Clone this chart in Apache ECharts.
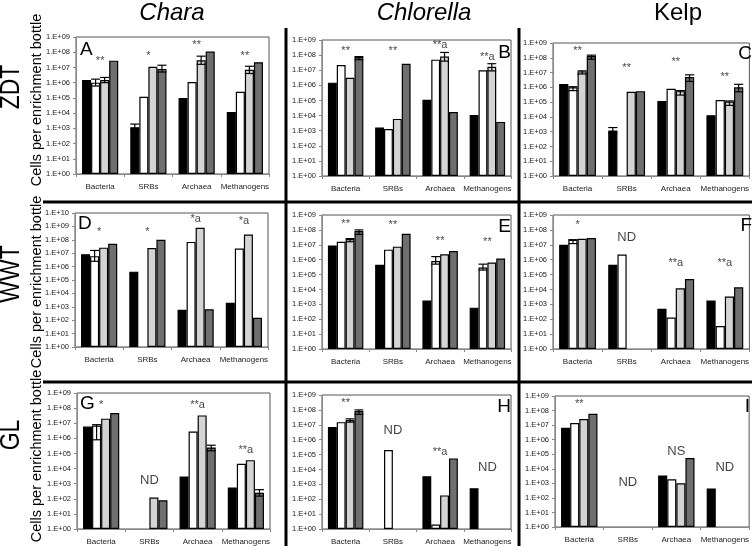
<!DOCTYPE html>
<html><head><meta charset="utf-8">
<script src="https://cdn.jsdelivr.net/npm/echarts@6/dist/echarts.min.js"></script>
<style>html,body{margin:0;padding:0;background:#fff}#c{width:752px;height:546px}</style>
</head><body><div id="c"></div>
<script>
const categories = ['Bacteria', 'SRBs', 'Archaea', 'Methanogens'];
const columnTitles = ['Chara', 'Chlorella', 'Kelp'];
const rowTitles = ['ZDT', 'WWT', 'GL'];
const panelLetters = ['A', 'B', 'C', 'D', 'E', 'F', 'G', 'H', 'I'];
const yAxisName = 'Cells per enrichment bottle';

// rows: black, white, light gray, dark gray treatments; columns: categories
const chara_ZDT = [
  [1.5e6, 1.2e3, 1.0e5, 1.2e4],
  [1.0e6, 1.2e5, 1.1e6, 2.5e5],
  [1.5e6, 1.1e7, 3.0e7, 7.0e6],
  [2.8e7, 8.0e6, 1.1e8, 2.2e7]
];
const chlorella_ZDT = [
  [1.5e6, 1.6e3, 1.1e5, 1.1e4],
  [2.2e7, 1.3e3, 5.0e7, 1.0e7],
  [3.2e6, 6.0e3, 8.0e7, 1.7e7],
  [7.5e7, 2.7e7, 1.7e4, 3.8e3]
];
const kelp_ZDT = [
  [1.7e6, 1.2e3, 1.2e5, 1.3e4],
  [1.0e6, null, 8.0e5, 1.4e5],
  [1.2e7, 5.0e5, 5.5e5, 1.1e5],
  [1.3e8, 5.5e5, 5.0e6, 1.0e6]
];
const chara_WWT = [
  [8.5e6, 4.2e5, 6.0e2, 2.0e3],
  [6.0e6, null, 7.0e7, 2.2e7],
  [2.6e7, 2.4e7, 8.0e8, 2.5e8],
  [5.0e7, 1.0e8, 6.5e2, 1.5e2]
];
const chlorella_WWT = [
  [9.0e6, 4.5e5, 1.8e3, 6.0e2],
  [1.6e7, 4.7e6, 8.0e5, 3.0e5],
  [2.4e7, 7.5e6, 2.3e6, 6.5e5],
  [8.5e7, 5.5e7, 3.8e6, 1.2e6]
];
const kelp_WWT = [
  [1.0e7, 4.5e5, 5.0e2, 1.8e3],
  [2.2e7, 2.2e6, 1.3e2, 3.5e1],
  [2.5e7, null, 1.2e4, 3.3e3],
  [2.8e7, null, 5.0e4, 1.4e4]
];
const chara_GL = [
  [6.0e6, null, 3.0e3, 5.5e2],
  [7.0e6, null, 2.8e6, 2.1e4],
  [2.0e7, 1.2e2, 3.3e7, 3.6e4],
  [4.8e7, 8.0e1, 2.5e5, 2.5e2]
];
const chlorella_GL = [
  [7.0e6, null, 3.5e3, 5.5e2],
  [1.5e7, 2.0e5, 2.0e0, null],
  [2.1e7, null, 1.8e2, null],
  [8.5e7, null, 5.5e4, null]
];
const kelp_GL = [
  [6.5e6, null, 3.5e3, 4.5e2],
  [1.4e7, null, 1.9e3, null],
  [2.6e7, null, 1.0e3, null],
  [6.0e7, null, 5.5e4, null]
];

// error bars: [treatment, category, low, high]
const chara_ZDT_err = [[1,0,6e5,1.7e6],[2,0,1.0e6,2.2e6],[0,1,8e2,1.9e3],[3,1,5e6,1.4e7],[2,2,1.6e7,5.5e7],[2,3,4e6,1.2e7]];
const chlorella_ZDT_err = [[3,0,5e7,8e7],[2,2,4e7,1.5e8],[2,3,9e6,2.7e7]];
const kelp_ZDT_err = [[1,0,6e5,1.1e6],[2,0,8e6,1.3e7],[3,0,8e7,1.5e8],[0,1,8e2,1.9e3],[2,2,3e5,6e5],[3,2,2.5e6,7e6],[2,3,6e4,1.2e5],[3,3,5e5,1.6e6]];
const chara_WWT_err = [[1,0,2.5e6,1.6e7]];
const chlorella_WWT_err = [[2,0,1.6e7,2.6e7],[3,0,5e7,1e8],[1,2,5e5,1.6e6],[1,3,2e5,5e5]];
const kelp_WWT_err = [[1,0,1.2e7,2.2e7]];
const chara_GL_err = [[1,0,8e5,8e6],[3,2,1.5e5,3.5e5],[3,3,1.5e2,4e2]];
const chlorella_GL_err = [[2,0,1.5e7,2.5e7],[3,0,5e7,1e8]];
const kelp_GL_err = [];

// significance labels: [category, height, text]
const chara_ZDT_sig = [[0,2.5e7,'**'],[1,6e7,'*'],[2,3e8,'**'],[3,6e7,'**']];
const chlorella_ZDT_sig = [[0,2e8,'**'],[1,2e8,'**'],[2,4.5e8,'**a'],[3,8e7,'**a']];
const kelp_ZDT_sig = [[0,3e8,'**'],[1,2e7,'**'],[2,5e7,'**'],[3,5e6,'**']];
const chara_WWT_sig = [[0,4e8,'*'],[1,4e8,'*'],[2,3.5e9,'*a'],[3,2.5e9,'*a']];
const chlorella_WWT_sig = [[0,2.5e8,'**'],[1,2e8,'**'],[2,1.8e7,'**'],[3,1.6e7,'**']];
const kelp_WWT_sig = [[0,2e8,'*'],[1,3e7,'ND'],[2,6e5,'**a'],[3,6e5,'**a']];
const chara_GL_sig = [[0,1.6e8,'*'],[1,1.6e3,'ND'],[2,1.6e8,'**a'],[3,1.8e5,'**a']];
const chlorella_GL_sig = [[0,3e8,'**'],[1,4.5e6,'ND'],[2,1.6e5,'**a'],[3,1.3e4,'ND']];
const kelp_GL_sig = [[0,3e8,'**'],[1,1.2e3,'ND'],[2,1.6e5,'NS'],[3,1.3e4,'ND']];

const panels = [chara_ZDT, chlorella_ZDT, kelp_ZDT, chara_WWT, chlorella_WWT, kelp_WWT, chara_GL, chlorella_GL, kelp_GL];
const panelErrs = [chara_ZDT_err, chlorella_ZDT_err, kelp_ZDT_err, chara_WWT_err, chlorella_WWT_err, kelp_WWT_err, chara_GL_err, chlorella_GL_err, kelp_GL_err];
const panelSigs = [chara_ZDT_sig, chlorella_ZDT_sig, kelp_ZDT_sig, chara_WWT_sig, chlorella_WWT_sig, kelp_WWT_sig, chara_GL_sig, chlorella_GL_sig, kelp_GL_sig];
const panelMax = [1e9, 1e9, 1e9, 1e10, 1e9, 1e9, 1e9, 1e9, 1e9];

const barColors = ['#000000', '#ffffff', '#d4d4d4', '#6f6f6f'];
const gridBoxes = [
  {left: 76, top: 37, width: 193, height: 137},
  {left: 322, top: 40, width: 189, height: 136},
  {left: 553, top: 43, width: 197, height: 133},
  {left: 75, top: 213, width: 193, height: 134},
  {left: 322, top: 215, width: 189, height: 134},
  {left: 553, top: 215, width: 197, height: 134},
  {left: 77, top: 393, width: 193, height: 137},
  {left: 322, top: 395, width: 189, height: 135},
  {left: 555, top: 396, width: 195, height: 131}
];

const chart = echarts.init(document.getElementById('c'), null, {renderer: 'canvas'});
const FONT = '"Liberation Sans", Arial, sans-serif';

const grid = [], xAxis = [], yAxis = [], series = [];
gridBoxes.forEach((g, p) => {
  grid.push(Object.assign({show: true, borderColor: '#555', borderWidth: 1, backgroundColor: 'transparent'}, g));
  xAxis.push({
    type: 'category', gridIndex: p, data: categories,
    axisLine: {lineStyle: {color: '#888', width: 1}},
    axisTick: {show: true, length: 3, lineStyle: {color: '#888'}},
    axisLabel: {fontSize: 8, color: '#222', fontFamily: FONT, margin: 9, interval: 0, hideOverlap: false}
  });
  yAxis.push({
    type: 'log', logBase: 10, gridIndex: p, min: 1, max: panelMax[p], interval: 1,
    axisLine: {show: true, lineStyle: {color: '#888', width: 1}},
    axisTick: {show: true, length: 3, lineStyle: {color: '#888'}},
    splitLine: {show: false},
    axisLabel: {fontSize: 7.5, color: '#222', fontFamily: FONT, margin: 6,
      formatter: v => { const e = Math.round(Math.log10(v)); return '1.E+' + (e < 10 ? '0' : '') + e; }}
  });
  panels[p].forEach((row, s) => {
    series.push({
      type: 'bar', xAxisIndex: p, yAxisIndex: p, barGap: '0%', barCategoryGap: '25%',
      data: row.map(v => (v == null ? '-' : v)),
      itemStyle: {color: barColors[s], borderColor: '#000', borderWidth: 1.2},
      silent: true
    });
  });
  series.push({
    type: 'custom', xAxisIndex: p, yAxisIndex: p, z: 5, silent: true,
    data: panelErrs[p].map(e => [e[1], e[2], e[3], e[0]]),
    renderItem: (params, api) => {
      const c = api.value(0), lo = api.value(1), hi = api.value(2), s = api.value(3);
      const pl = api.coord([c, lo]), ph = api.coord([c, hi]);
      const band = api.size([1, 1])[0];
      const bw = band * 0.75 / 4;
      const x = pl[0] + (s - 1.5) * bw;
      const hw = bw * 0.5;
      const st = {stroke: '#000', lineWidth: 1.2};
      return {type: 'group', children: [
        {type: 'line', shape: {x1: x, y1: pl[1], x2: x, y2: ph[1]}, style: st},
        {type: 'line', shape: {x1: x - hw, y1: pl[1], x2: x + hw, y2: pl[1]}, style: st},
        {type: 'line', shape: {x1: x - hw, y1: ph[1], x2: x + hw, y2: ph[1]}, style: st}
      ]};
    }
  });
  series.push({
    type: 'scatter', xAxisIndex: p, yAxisIndex: p, symbolSize: 0, silent: true, z: 6,
    data: panelSigs[p].map(a => [a[0], a[1], a[2]]),
    label: {show: true, position: 'inside', color: '#111', fontFamily: FONT,
      formatter: q => q.value[2],
      rich: {}},
    labelLayout: {hideOverlap: false}
  });
});
// make ND / NS bigger
series.forEach(s => {
  if (s.type === 'scatter') {
    s.data = s.data.map(d => ({value: d, label: {fontSize: (d[2] === 'ND' || d[2] === 'NS') ? 13 : 11}}));
  }
});

const graphic = [];
const sepStyle = {stroke: '#000', lineWidth: 3};
graphic.push({type: 'line', shape: {x1: 286, y1: 28, x2: 286, y2: 546}, style: sepStyle});
graphic.push({type: 'line', shape: {x1: 519, y1: 28, x2: 519, y2: 546}, style: sepStyle});
graphic.push({type: 'line', shape: {x1: 43, y1: 202, x2: 752, y2: 202}, style: sepStyle});
graphic.push({type: 'line', shape: {x1: 43, y1: 382, x2: 752, y2: 382}, style: sepStyle});

const titleX = [172, 424, 678];
columnTitles.forEach((t, i) => {
  graphic.push({type: 'text', x: titleX[i], y: 13, style: {text: t, font: (i < 2 ? 'italic ' : '') + '24px ' + FONT, fill: '#000', align: 'center', verticalAlign: 'middle'}});
});
const rowY = [87, 274, 435];
rowTitles.forEach((t, i) => {
  graphic.push({type: 'text', x: 12, y: rowY[i], rotation: Math.PI / 2, scaleX: 0.85,
    style: {text: t, font: '27px ' + FONT, fill: '#000', align: 'center', verticalAlign: 'middle'}});
});
const nameY = [100, 282, 456];
nameY.forEach(y => {
  graphic.push({type: 'text', x: 37, y: y, rotation: Math.PI / 2,
    style: {text: yAxisName, font: '14.5px ' + FONT, fill: '#000', align: 'center', verticalAlign: 'middle'}});
});
const letterPos = [[80, 40, 'left'], [511, 43, 'right'], [752, 44, 'right'], [78, 214, 'left'], [511, 217, 'right'], [752, 216, 'right'], [80, 394, 'left'], [511, 397, 'right'], [750, 397, 'right']];
panelLetters.forEach((L, i) => {
  graphic.push({type: 'text', x: letterPos[i][0], y: letterPos[i][1], z: 10,
    style: {text: L, font: '19px ' + FONT, fill: '#000', align: letterPos[i][2], verticalAlign: 'top'}});
});

chart.setOption({animation: false, backgroundColor: '#fff', grid, xAxis, yAxis, series, graphic});
</script></body></html>
